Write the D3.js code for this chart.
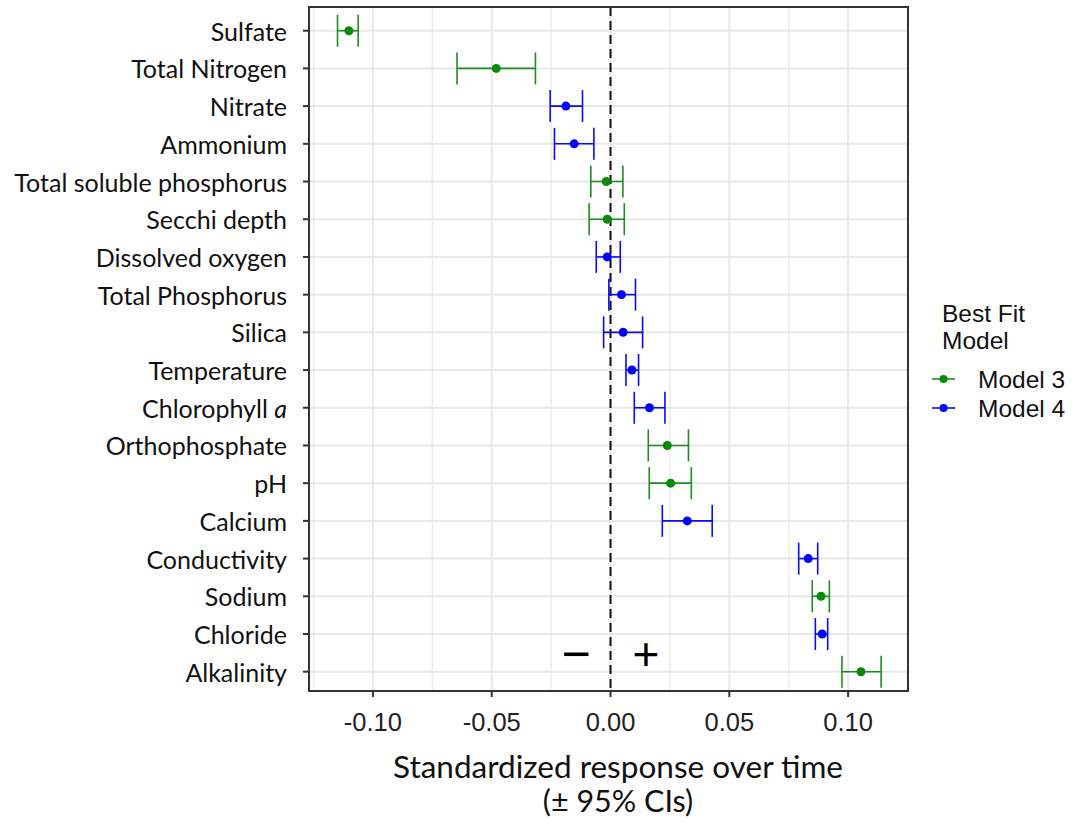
<!DOCTYPE html>
<html><head><meta charset="utf-8">
<script src="https://cdn.jsdelivr.net/npm/d3@7"></script>
<style>body{margin:0;background:#fff}</style>
</head><body>
<svg id="c" width="1075" height="824"></svg>
<script>
const categories = ["Sulfate","Total Nitrogen","Nitrate","Ammonium","Total soluble phosphorus","Secchi depth","Dissolved oxygen","Total Phosphorus","Silica","Temperature","Chlorophyll a","Orthophosphate","pH","Calcium","Conductivity","Sodium","Chloride","Alkalinity"];
const estimate = [-0.1101,-0.0481,-0.0188,-0.0153,-0.0018,-0.0014,-0.0014,0.0046,0.0053,0.0090,0.0164,0.0239,0.0253,0.0323,0.0832,0.0886,0.0891,0.1054];
const lower = [-0.1149,-0.0646,-0.0254,-0.0236,-0.0083,-0.0090,-0.0060,-0.0007,-0.0029,0.0065,0.0100,0.0159,0.0163,0.0218,0.0792,0.0849,0.0862,0.0974];
const upper = [-0.1062,-0.0316,-0.0118,-0.0070,0.0052,0.0058,0.0041,0.0105,0.0135,0.0118,0.0229,0.0328,0.0340,0.0428,0.0872,0.0921,0.0914,0.1139];
const bestModel = ["Model 3","Model 3","Model 4","Model 4","Model 3","Model 3","Model 4","Model 4","Model 4","Model 4","Model 4","Model 3","Model 3","Model 4","Model 4","Model 3","Model 4","Model 3"];
const models = ["Model 3","Model 4"];
const xTicks = [-0.10,-0.05,0.00,0.05,0.10];
const xMinor = [-0.125,-0.075,-0.025,0.025,0.075,0.125];

const svg = d3.select("#c");
const L = 309, R = 908, T = 7, B = 691;
const x = d3.scaleLinear().domain([-0.1269, 0.1252]).range([L, R]);
const y = d3.scalePoint().domain(categories).range([30.7, 671.7]);
const color = d3.scaleOrdinal().domain(models).range(["#1e8c1e","#0a0aff"]);
const ptColor = d3.scaleOrdinal().domain(models).range(["#088a08","#0000ff"]);

const g = svg.append("g");
// grid
g.selectAll(".mn").data(xMinor).join("line")
  .attr("x1", d=>x(d)).attr("x2", d=>x(d)).attr("y1", T).attr("y2", B)
  .attr("stroke", "#ececec").attr("stroke-width", 1.5);
g.selectAll(".mj").data(xTicks).join("line")
  .attr("x1", d=>x(d)).attr("x2", d=>x(d)).attr("y1", T).attr("y2", B)
  .attr("stroke", "#e8e8e8").attr("stroke-width", 2);
g.selectAll(".hy").data(categories).join("line")
  .attr("x1", L).attr("x2", R).attr("y1", d=>y(d)).attr("y2", d=>y(d))
  .attr("stroke", "#e8e8e8").attr("stroke-width", 2);

// zero line
g.append("line").attr("x1", x(0)).attr("x2", x(0)).attr("y1", T).attr("y2", B)
  .attr("stroke", "#111").attr("stroke-width", 2).attr("stroke-dasharray", "9,5");

const data = categories.map((c,i)=>({c, e:estimate[i], lo:lower[i], hi:upper[i], m:bestModel[i]}));
const cap = 16;
const eb = g.selectAll(".eb").data(data).join("g");
eb.append("line").attr("x1", d=>x(d.lo)).attr("x2", d=>x(d.hi)).attr("y1", d=>y(d.c)).attr("y2", d=>y(d.c))
  .attr("stroke", d=>color(d.m)).attr("stroke-width", 1.6);
eb.append("line").attr("x1", d=>x(d.lo)).attr("x2", d=>x(d.lo)).attr("y1", d=>y(d.c)-cap).attr("y2", d=>y(d.c)+cap)
  .attr("stroke", d=>color(d.m)).attr("stroke-width", 1.6);
eb.append("line").attr("x1", d=>x(d.hi)).attr("x2", d=>x(d.hi)).attr("y1", d=>y(d.c)-cap).attr("y2", d=>y(d.c)+cap)
  .attr("stroke", d=>color(d.m)).attr("stroke-width", 1.6);
eb.append("circle").attr("cx", d=>x(d.e)).attr("cy", d=>y(d.c)).attr("r", 4.5)
  .attr("fill", d=>ptColor(d.m));

// +/- annotations
g.append("text").attr("x", 576).attr("y", 654).attr("text-anchor","middle").attr("dominant-baseline","central")
  .attr("font-family","Liberation Sans, Arial, sans-serif").attr("font-size", 50).attr("fill","#000").text("\u2212");
g.append("text").attr("x", 646).attr("y", 654).attr("text-anchor","middle").attr("dominant-baseline","central")
  .attr("font-family","Liberation Sans, Arial, sans-serif").attr("font-size", 46).attr("fill","#000").text("+");

// border
g.append("rect").attr("x", L).attr("y", T).attr("width", R-L).attr("height", B-T)
  .attr("fill","none").attr("stroke","#333").attr("stroke-width", 2);

// y axis ticks and labels
const ya = svg.append("g");
ya.selectAll("line").data(categories).join("line")
  .attr("x1", L-6).attr("x2", L).attr("y1", d=>y(d)).attr("y2", d=>y(d))
  .attr("stroke","#333").attr("stroke-width", 2);
const yl = ya.selectAll("text").data(categories).join("text")
  .attr("x", 287).attr("y", d=>y(d)).attr("text-anchor","end").attr("dominant-baseline","central")
  .attr("font-family","Lato, 'Open Sans', sans-serif").attr("font-size", 25).attr("fill","#111");
yl.each(function(d){
  const t = d3.select(this);
  if (d === "Chlorophyll a") {
    t.append("tspan").text("Chlorophyll ");
    t.append("tspan").attr("font-style","italic").text("a");
  } else t.text(d);
});

// x axis
const xa = svg.append("g");
xa.selectAll("line").data(xTicks).join("line")
  .attr("x1", d=>x(d)).attr("x2", d=>x(d)).attr("y1", B).attr("y2", B+6)
  .attr("stroke","#333").attr("stroke-width", 2);
xa.selectAll("text").data(xTicks).join("text")
  .attr("x", d=>x(d)).attr("y", 731).attr("text-anchor","middle")
  .attr("font-family","Liberation Sans, Arial, sans-serif").attr("font-size", 25.5).attr("fill","#222")
  .text(d=>d3.format(".2f")(d).replace("\u2212","-"));

svg.append("text").attr("x", 618).attr("y", 778).attr("text-anchor","middle")
  .attr("font-family","Lato, 'Open Sans', sans-serif").attr("font-size", 30.5).attr("fill","#111")
  .attr("textLength", 450).attr("lengthAdjust","spacingAndGlyphs")
  .text("Standardized response over time");
svg.append("text").attr("x", 618).attr("y", 812).attr("text-anchor","middle")
  .attr("font-family","Lato, 'Open Sans', sans-serif").attr("font-size", 30.5).attr("fill","#111")
  .text("(\u00B1 95% CIs)");

// legend
const lg = svg.append("g").attr("font-family","Liberation Sans, Arial, sans-serif").attr("fill","#111");
lg.append("text").attr("x", 942).attr("y", 322).attr("font-size", 24.5).text("Best Fit");
lg.append("text").attr("x", 942).attr("y", 349).attr("font-size", 24.5).text("Model");
const li = lg.selectAll(".li").data(models).join("g").attr("transform",(d,i)=>`translate(0,${379+i*29})`);
li.append("line").attr("x1", 932).attr("x2", 955).attr("stroke", d=>color(d)).attr("stroke-width", 1.6);
li.append("circle").attr("cx", 943.5).attr("r", 4).attr("fill", d=>ptColor(d));
li.append("text").attr("x", 978).attr("dominant-baseline","central").attr("font-size", 24.5).text(d=>d);
</script>
</body></html>
